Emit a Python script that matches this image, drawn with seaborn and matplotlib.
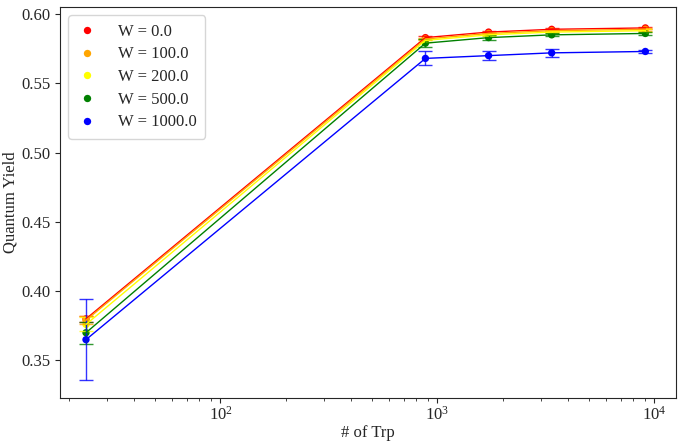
import pandas as pd
import numpy as np
import seaborn as sns
import matplotlib.pyplot as plt

n_trp = [24, 880, 1720, 3360, 9080]
w_values = [0.0, 100.0, 200.0, 500.0, 1000.0]
colors = ['red', 'orange', 'yellow', 'green', 'blue']

qy = {
    0.0: [0.380, 0.583, 0.587, 0.589, 0.590],
    100.0: [0.379, 0.582, 0.586, 0.588, 0.589],
    200.0: [0.376, 0.581, 0.585, 0.587, 0.588],
    500.0: [0.370, 0.579, 0.583, 0.585, 0.586],
    1000.0: [0.365, 0.568, 0.570, 0.572, 0.573],
}
qy_err = {
    0.0: [0.002, 0.001, 0.001, 0.001, 0.001],
    100.0: [0.003, 0.001, 0.001, 0.001, 0.001],
    200.0: [0.005, 0.001, 0.001, 0.001, 0.001],
    500.0: [0.008, 0.003, 0.002, 0.001, 0.001],
    1000.0: [0.029, 0.005, 0.003, 0.003, 0.001],
}

rows = []
for w in w_values:
    for x, y, e in zip(n_trp, qy[w], qy_err[w]):
        rows.append({'N': x, 'QY': y, 'err': e, 'W': f'W = {w}'})
df = pd.DataFrame(rows)

sns.set_style("ticks")
plt.rcParams['font.family'] = ['Liberation Serif', 'DejaVu Serif']
plt.rcParams['mathtext.fontset'] = 'stix'

fig, ax = plt.subplots(figsize=(6.81, 4.46), dpi=100)
palette = dict(zip([f'W = {w}' for w in w_values], colors))

for w, c in zip(w_values, colors):
    sub = df[df['W'] == f'W = {w}']
    ax.errorbar(sub['N'], sub['QY'], yerr=sub['err'], fmt='none',
                ecolor=c, capsize=5, elinewidth=1, alpha=0.8)
sns.lineplot(data=df, x='N', y='QY', hue='W', palette=palette,
             linewidth=1, legend=False, ax=ax)
sns.scatterplot(data=df, x='N', y='QY', hue='W', palette=palette,
                s=28, edgecolor='none', ax=ax)

ax.set_xscale('log')
ax.set_xlim(18.2, 12600)
ax.set_ylim(0.323, 0.605)
ax.set_xlabel('# of Trp', fontsize=12, labelpad=1)
ax.set_ylabel('Quantum Yield', fontsize=12, labelpad=2)
ax.tick_params(labelsize=12)
ax.tick_params(axis='x', pad=2)
ax.legend(loc='upper left', fontsize=12, title=None, labelspacing=0.4,
          handlelength=1.2, handletextpad=1.3, borderpad=0.5)

fig.subplots_adjust(left=0.088, right=0.993, top=0.984, bottom=0.108)
plt.savefig('out.png', dpi=100)
